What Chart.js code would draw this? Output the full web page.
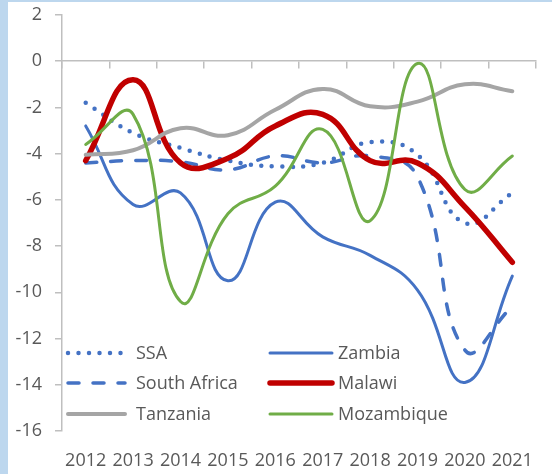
<!DOCTYPE html>
<html>
<head>
<meta charset="utf-8">
<script src="https://cdn.jsdelivr.net/npm/chart.js@4/dist/chart.umd.min.js"></script>
<style>
  html, body { margin: 0; padding: 0; background: #bdd7ee; }
  #wrap { position: absolute; left: 8px; top: 2px; width: 544px; height: 472px; background: #fff; }
</style>
</head>
<body>
<div id="wrap"><canvas id="c" width="544" height="472"></canvas></div>
<script>
const years = ['2012', '2013', '2014', '2015', '2016', '2017', '2018', '2019', '2020', '2021'];

const ssa         = [-1.8, -3.1, -3.75, -4.3, -4.55, -4.4, -3.5, -4.05, -7.0, -5.7];
const zambia      = [-2.8, -6.2, -5.7, -9.5, -6.1, -7.6, -8.4, -9.9, -13.9, -9.3];
const southAfrica = [-4.4, -4.3, -4.35, -4.7, -4.1, -4.4, -4.1, -5.0, -12.5, -10.6];
const malawi      = [-4.3, -0.8, -4.4, -4.2, -2.8, -2.3, -4.3, -4.4, -6.3, -8.7];
const tanzania    = [-4.05, -3.85, -2.9, -3.2, -2.1, -1.2, -1.95, -1.75, -1.0, -1.3];
const mozambique  = [-3.6, -2.3, -10.4, -6.6, -5.4, -2.95, -6.9, -0.1, -5.55, -4.1];

const AXIS = '#bfbfbf';
const TEXT = '#595959';
const FONT = '"Open Sans", "DejaVu Sans", sans-serif';

function series(label, data, color, width, dash, order) {
  return {
    label: label, data: data,
    borderColor: color, backgroundColor: color,
    borderWidth: width, borderDash: dash,
    borderCapStyle: 'round', borderJoinStyle: 'round',
    pointRadius: 0, pointHoverRadius: 0,
    tension: 0.45, fill: false, order: order
  };
}

// legend drawn inside the plot, 2 columns x 3 rows like the original
const insideLegend = {
  id: 'insideLegend',
  afterDatasetsDraw(chart) {
    const ctx = chart.ctx;
    const cols = [{ x0: 60, x1: 117, tx: 128 }, { x0: 262, x1: 324, tx: 330 }];
    const rows = [351, 381, 412];
    ctx.save();
    ctx.font = '18px ' + FONT;
    ctx.textBaseline = 'middle';
    ctx.fillStyle = TEXT;
    chart.data.datasets.forEach((ds, i) => {
      const c = cols[i % 2], y = rows[Math.floor(i / 2)];
      ctx.save();
      ctx.strokeStyle = ds.borderColor;
      ctx.lineWidth = ds.borderWidth;
      ctx.lineCap = 'round';
      ctx.setLineDash(ds.borderDash || []);
      ctx.beginPath();
      ctx.moveTo(c.x0, y);
      ctx.lineTo(c.x1, y);
      ctx.stroke();
      ctx.restore();
      ctx.fillText(ds.label, c.tx, y + 1);
    });
    ctx.restore();
  }
};

new Chart(document.getElementById('c'), {
  type: 'line',
  data: {
    labels: years,
    datasets: [
      series('SSA', ssa, '#4472c4', 4.5, [0, 10.5], 5),
      series('Zambia', zambia, '#4472c4', 3, [], 4),
      series('South Africa', southAfrica, '#4472c4', 3.5, [11, 14], 3),
      series('Malawi', malawi, '#c00000', 5.5, [], 2),
      series('Tanzania', tanzania, '#a5a5a5', 4, [], 1),
      series('Mozambique', mozambique, '#70ad47', 3, [], 0)
    ]
  },
  options: {
    responsive: false,
    animation: false,
    layout: { padding: { top: 13, right: 2, left: 0, bottom: 0 } },
    plugins: { legend: { display: false }, tooltip: { enabled: false } },
    scales: {
      x: {
        type: 'category',
        position: { y: 0 },
        offset: true,
        grid: { display: true, offset: true, drawOnChartArea: false, drawTicks: true, tickLength: 7, color: AXIS, lineWidth: 1.5 },
        border: { display: true, color: AXIS, width: 1.5 },
        ticks: { display: false }
      },
      x2: {
        type: 'category',
        position: 'bottom',
        offset: true,
        grid: { display: false, drawTicks: false },
        border: { display: false },
        ticks: { color: TEXT, font: { family: FONT, size: 18 }, padding: 19, maxRotation: 0, autoSkip: false },
        afterFit: s => { s.height = 43; }
      },
      y: {
        min: -16, max: 2,
        ticks: { stepSize: 2, color: TEXT, font: { family: FONT, size: 18 }, padding: 13 },
        grid: { display: true, drawOnChartArea: false, drawTicks: true, tickLength: 7, color: AXIS, lineWidth: 1.5 },
        border: { display: true, color: AXIS, width: 1.5 },
        afterFit: s => { s.width = 54; s.paddingTop = 0; s.paddingBottom = 0; }
      }
    }
  },
  plugins: [insideLegend]
});
</script>
</body>
</html>
